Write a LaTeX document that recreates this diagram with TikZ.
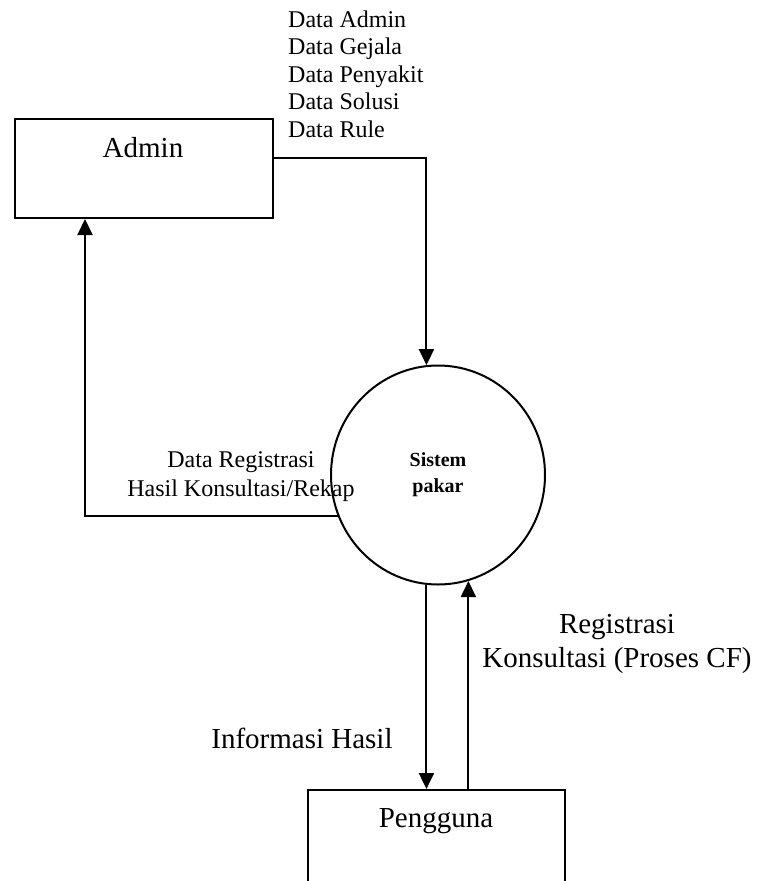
\documentclass[tikz,border=0pt]{standalone}
\usepackage{fontspec}
\setmainfont{Liberation Serif}
\usetikzlibrary{arrows.meta,shapes.geometric,positioning}

\tikzset{
  box/.style={draw, line width=2pt, rectangle, inner sep=0pt},
  proses/.style={draw, ellipse, line width=2pt, inner sep=0pt, align=center,
    font=\fontsize{20}{26}\selectfont\bfseries},
  flow/.style={line width=2pt, -{Triangle[width=15pt,length=16pt]}},
  big/.style={font=\fontsize{29}{34}\selectfont},
  small/.style={font=\fontsize{24}{27.5}\selectfont},
}

\begin{document}
\begin{tikzpicture}[x=1pt,y=-1pt]
  \useasboundingbox (0,0) rectangle (757,881);
  \clip (0,0) rectangle (757,881);

  % entitas + proses
  \node[box, minimum width=258pt, minimum height=99pt, anchor=north west] (admin) at (14,118) {};
  \node[box, minimum width=257pt, minimum height=160pt, anchor=north west] (pengguna) at (307,789) {};
  \node[proses, minimum width=214pt, minimum height=219pt] (sistem) at (438,475) {Sistem\\pakar};

  \node[big, anchor=base] (adminlbl) at (143,157) {Admin};
  \node[big, anchor=base] (penggunalbl) at (436,827) {Pengguna};

  % aliran data
  \draw[flow] ([yshift=10.5pt]admin.east) -| (sistem.96);
  \draw[flow] (sistem.202) -| ([xshift=71pt]admin.south west);
  \draw[flow] (sistem.264) -- (sistem.264 |- pengguna.north);
  \draw[flow] (sistem.286 |- pengguna.north) -- (sistem.286);

  \node[small, anchor=north west, align=left, inner sep=0pt] (datalist) at (288,10.5)
    {Data Admin\\Data Gejala\\Data Penyakit\\Data Solusi\\Data Rule};
  \node[small, font=\fontsize{24}{29}\selectfont, anchor=north, align=center, inner sep=0pt] (rekap) at (241,451.5)
    {Data Registrasi\\Hasil Konsultasi/Rekap};
  \node[big, anchor=north, align=center, inner sep=0pt] (konsul) at (617,614)
    {Registrasi\\Konsultasi (Proses CF)};
  \node[big, anchor=base] (info) at (302,748) {Informasi Hasil};
\end{tikzpicture}
\end{document}
